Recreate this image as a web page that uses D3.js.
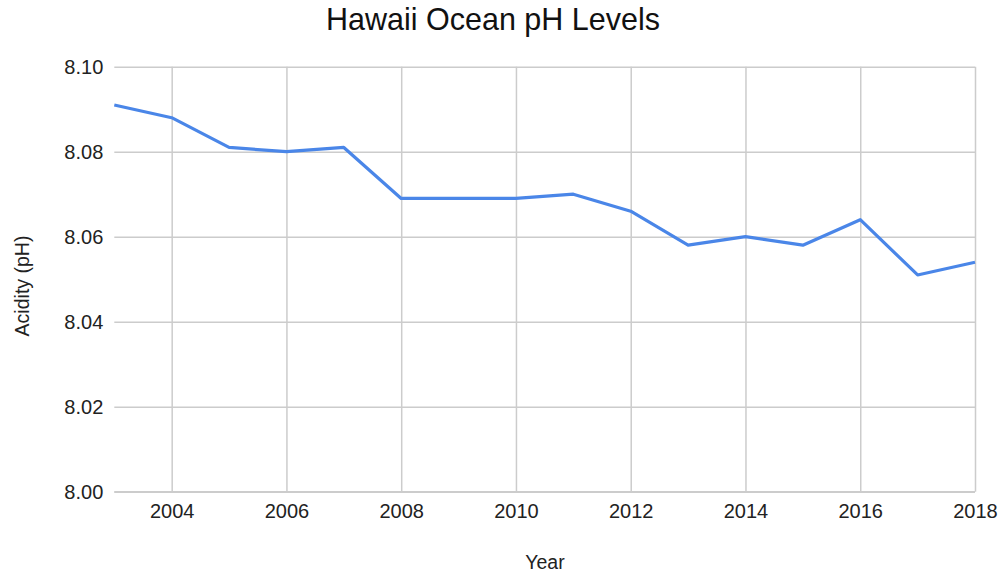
<!DOCTYPE html>
<html>
<head>
<meta charset="utf-8">
<script src="https://cdn.jsdelivr.net/npm/d3@7"></script>
<style>
  html, body { margin: 0; padding: 0; background: #fff; }
  svg { display: block; font-family: "Liberation Sans", Arial, Helvetica, sans-serif; }
</style>
</head>
<body>
<svg id="chart" width="1000" height="573"></svg>
<script>
// Annual mean surface pH, Hawaii Ocean Time-series
const years = [2003, 2004, 2005, 2006, 2007, 2008, 2009, 2010, 2011, 2012, 2013, 2014, 2015, 2016, 2017, 2018];
const phValues = [8.091, 8.088, 8.081, 8.080, 8.081, 8.069, 8.069, 8.069, 8.070, 8.066, 8.058, 8.060, 8.058, 8.064, 8.051, 8.054];
const yTicks = [8.00, 8.02, 8.04, 8.06, 8.08, 8.10];
const xTicks = [2004, 2006, 2008, 2010, 2012, 2014, 2016, 2018];

const svg = d3.select("#chart");
const margin = { left: 114.3, right: 25, top: 66.7, bottom: 81.3 };
const W = 1000, H = 573;
const FONT = "Liberation Sans, Arial, sans-serif";

const x = d3.scaleLinear().domain([2003, 2018]).range([margin.left, W - margin.right]);
const y = d3.scaleLinear().domain([8.00, 8.10]).range([H - margin.bottom, margin.top]);

// Horizontal gridlines + y tick labels
const yAxis = d3.axisLeft(y).tickValues(yTicks).tickFormat(d3.format(".2f"))
  .tickSize(-(W - margin.right - margin.left)).tickPadding(11);
const gy = svg.append("g").attr("transform", `translate(${margin.left},0)`).call(yAxis);
gy.select(".domain").remove();
gy.selectAll(".tick line").attr("stroke", "#cccccc").attr("stroke-width", 1.5);
gy.selectAll(".tick text").attr("fill", "#222").attr("font-size", 20).attr("font-family", FONT);

// Vertical gridlines + x tick labels
const xAxis = d3.axisBottom(x).tickValues(xTicks).tickFormat(d3.format("d"))
  .tickSize(-(H - margin.bottom - margin.top)).tickPadding(12);
const gx = svg.append("g").attr("transform", `translate(0,${H - margin.bottom})`).call(xAxis);
gx.select(".domain").remove();
gx.selectAll(".tick line").attr("stroke", "#cccccc").attr("stroke-width", 1.5);
gx.selectAll(".tick text").attr("fill", "#222").attr("font-size", 20).attr("font-family", FONT);

// Bottom baseline
svg.append("line")
  .attr("x1", margin.left).attr("x2", W - margin.right)
  .attr("y1", y(8.00)).attr("y2", y(8.00))
  .attr("stroke", "#cccccc").attr("stroke-width", 1.5);

// pH line
const line = d3.line().x((d, i) => x(years[i])).y(d => y(d));
svg.append("path")
  .datum(phValues)
  .attr("d", line)
  .attr("fill", "none")
  .attr("stroke", "#4a86e8")
  .attr("stroke-width", 3.2)
  .attr("stroke-linejoin", "round");

// Title
svg.append("text")
  .attr("x", 493).attr("y", 30)
  .attr("text-anchor", "middle")
  .attr("font-size", 30.5)
  .attr("fill", "#111")
  .text("Hawaii Ocean pH Levels");

// Axis titles
svg.append("text")
  .attr("x", 545).attr("y", 569)
  .attr("text-anchor", "middle")
  .attr("font-size", 19.5)
  .attr("fill", "#222")
  .text("Year");

svg.append("text")
  .attr("transform", "translate(29,286) rotate(-90)")
  .attr("text-anchor", "middle")
  .attr("font-size", 19.5)
  .attr("fill", "#222")
  .text("Acidity (pH)");
</script>
</body>
</html>
